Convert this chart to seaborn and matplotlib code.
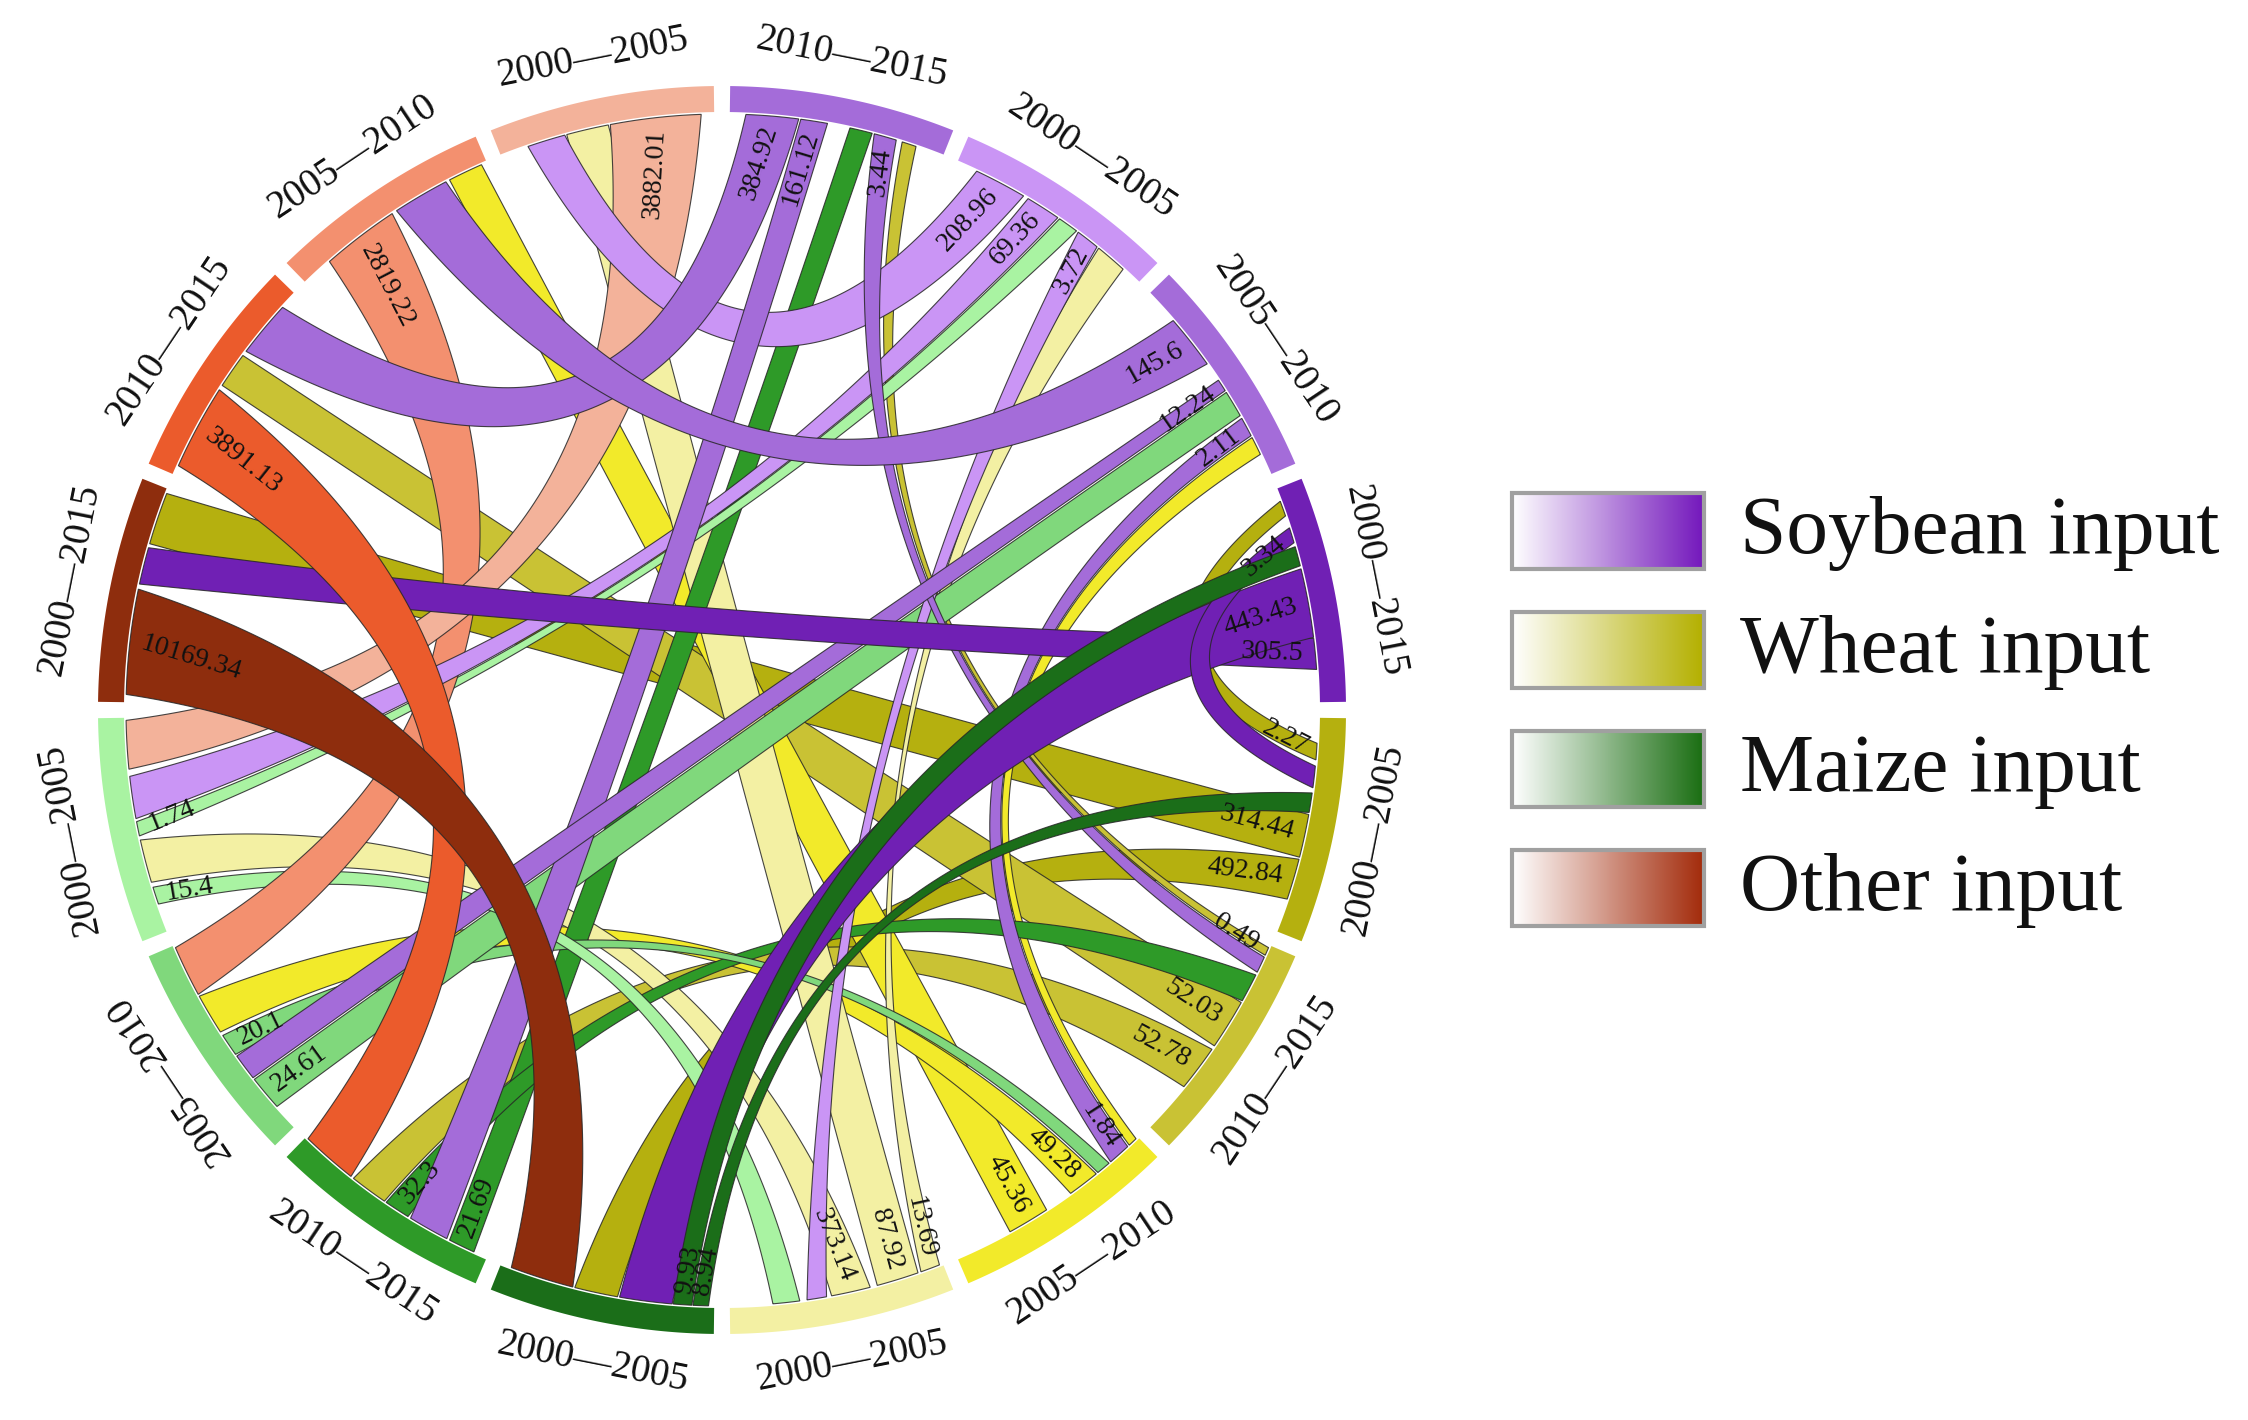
import numpy as np
import matplotlib
matplotlib.use("Agg")
import matplotlib.pyplot as plt
import seaborn as sns
from matplotlib.patches import Rectangle

# ---------------- data ----------------
# 16 sectors, clockwise from the top
segment_crop = ["Soybean"] * 4 + ["Wheat"] * 4 + ["Maize"] * 4 + ["Other"] * 4
segment_labels = ["2010—2015", "2000—2005", "2005—2010", "2000—2015",
                  "2000—2005", "2010—2015", "2005—2010", "2000—2005",
                  "2000—2005", "2010—2015", "2005—2010", "2000—2005",
                  "2000—2015", "2010—2015", "2005—2010", "2000—2005"]

# flows: labelled end (a) -> other end (b)
flow_seg_a = [12, 3, 4, 13, 5, 0, 14, 2, 6, 15, 7, 1, 1, 11, 7, 11, 1, 7,
              6, 10, 2, 10, 2, 6, 0, 9, 0, 5, 9, 5, 4, 3, 8, 8, 3, 4]
flow_seg_b = [8, 12, 12, 9, 13, 13, 10, 14, 14, 11, 15, 15, 11, 1, 11, 7, 7, 1,
              10, 6, 10, 2, 6, 2, 9, 0, 5, 0, 5, 9, 8, 8, 3, 4, 4, 3]
flow_label_a = ["10169.34", "305.5", "314.44", "3891.13", "52.03", "384.92",
                "2819.22", "145.6", "45.36", "3882.01", "87.92", "208.96",
                "69.36", "1.74", "373.14", "15.4", "3.72", "13.69",
                "49.28", "20.1", "12.24", "24.61", "2.11", "",
                "161.12", "21.69", "3.44", "0.49", "32.3", "52.78",
                "492.84", "443.43", "9.93", "8.94", "3.34", "2.27"]
flow_label_b = [""] * 22 + ["1.84"] + [""] * 13

legend_labels = ["Soybean input", "Wheat input", "Maize input", "Other input"]

# ---------------- layout / style ----------------
segment_colors = ["#A46CD9", "#CA95F5", "#A46CD9", "#7020B4",
                  "#B5B00F", "#C9C234", "#F2EA2A", "#F3F0A3",
                  "#1B6E19", "#2E9A28", "#80D87C", "#A9F3A2",
                  "#8E2D0D", "#EB5B2C", "#F3906F", "#F3B29A"]
legend_colors = ["#7418BC", "#B4B000", "#1A6E12", "#A32B0B"]

# attachment spans (degrees, math orientation) at end a and end b
span_a = [(168.3, 178.5), (3.9, 6.9), (-14.3, -10.1), (147.5, 155.8), (-34.3, -29.4),
          (82.6, 87.7), (123.6, 131.2), (35.5, 40.8), (-61.1, -57.0), (92.0, 100.8),
          (-74.9, -70.8), (59.6, 64.7), (55.7, 59.1), (-169.2, -167.8), (-79.4, -75.6),
          (-162.7, -161.0), (51.0, 53.3), (-70.5, -68.6), (-54.2, -51.1), (-146.9, -144.7),
          (32.4, 33.6), (-141.7, -138.3), (27.4, 29.3), (-46.9, -46.0), (79.8, 82.4),
          (-117.2, -114.6), (73.0, 75.2), (-24.3, -23.5), (-124.3, -121.8), (-39.2, -34.7),
          (-18.5, -14.5), (7.0, 13.7), (-94.7, -92.9), (-92.8, -91.3), (16.3, 17.8),
          (-4.8, -3.2)]
span_b = [(-110.7, -104.5), (164.2, 167.8), (158.7, 163.8), (-134.0, -128.5), (143.5, 147.0),
          (137.5, 143.0), (-156.5, -151.5), (117.6, 123.1), (113.8, 117.2), (-179.0, -174.3),
          (101.0, 105.1), (105.3, 109.0), (-173.6, -169.5), (53.5, 55.5), (-167.4, -163.2),
          (-85.1, -82.5), (-81.8, -79.9), (47.7, 50.8), (-151.3, -147.3), (-50.9, -49.5),
          (-144.5, -141.9), (29.6, 32.2), (-49.3, -47.1), (25.4, 27.2), (-121.5, -117.5),
          (75.4, 77.6), (-26.1, -24.5), (71.0, 72.4), (-29.2, -26.4), (-128.2, -124.5),
          (-104.3, -100.1), (-99.9, -94.8), (14.0, 15.9), (-9.9, -8.0), (-7.5, -5.4),
          (19.0, 20.5)]

CX, CY = 722.0, 710.0
R_OUT, R_IN = 624.0, 598.0
R_ATT = 596.0
R_LAB = 665.0
SEG_SPAN = 22.5
SEG_GAP = 1.5

sns.set_theme(style="white")
plt.rcParams["font.family"] = ["Liberation Serif", "DejaVu Serif"]

fig = plt.figure(figsize=(22.48, 14.2), dpi=100)
ax = fig.add_axes([0, 0, 1, 1])
ax.axis("off")


def pt(theta, r=R_ATT):
    t = np.deg2rad(theta)
    return np.array([CX + r * np.cos(t), CY - r * np.sin(t)])


def ctrl(ta, tb):
    d = abs(((tb - ta + 180.0) % 360.0) - 180.0)
    p0, p2 = pt(ta), pt(tb)
    mid = (p0 + p2) / 2.0
    cvec = mid - np.array([CX, CY])
    cmr = np.hypot(*cvec)
    if cmr < 1e-6:
        return np.array([CX, CY])
    half = R_ATT * np.sin(np.deg2rad(d / 2.0))
    ratio = np.clip(0.85 - 0.45 * (d - 30.0) / 60.0, 0.3, 0.85)
    taper = np.clip(1.0 - (d - 100.0) / 80.0, 0.12, 1.0)
    h = min(ratio * half, cmr / 2.0 * taper)
    return np.array([CX, CY]) + cvec / cmr * (cmr - 2.0 * h)


def bez(p0, c, p2, t):
    t = np.asarray(t)[:, None]
    return (1 - t) ** 2 * p0 + 2 * (1 - t) * t * c + t ** 2 * p2


def arc(t1, t2, r=R_ATT, n=40):
    th = np.linspace(t1, t2, n)
    return np.array([pt(x, r) for x in th])


def ribbon_poly(sa, sb):
    a1, a2 = sa
    b1, b2 = sb
    ts = np.linspace(0, 1, 100)
    parts = [arc(a1, a2),
             bez(pt(a2), ctrl(a2, b1), pt(b1), ts),
             arc(b1, b2),
             bez(pt(b2), ctrl(b2, a1), pt(a1), ts)]
    return np.vstack(parts)


def text_width(s, fs_px):
    w = 0.0
    for ch in s:
        w += 0.25 if ch == "." else 0.5
    return w * fs_px


def place_label(sa, sb, label, fs):
    am, bm = np.mean(sa), np.mean(sb)
    p0, c, p2 = pt(am), ctrl(am, bm), pt(bm)
    ts = np.linspace(0, 1, 600)
    pts = bez(p0, c, p2, ts)
    seg = np.hypot(*np.diff(pts, axis=0).T)
    cum = np.concatenate([[0], np.cumsum(seg)])
    fs_px = fs * 100 / 72.0
    dist = text_width(label, fs_px) / 2.0 + 10.0
    i = min(np.searchsorted(cum, dist), len(ts) - 2)
    x, y = pts[i]
    dx, dy = pts[i + 1] - pts[i]
    ang = np.degrees(np.arctan2(-dy, dx))
    if ang > 90:
        ang -= 180
    elif ang <= -90:
        ang += 180
    ax.text(x, y, label, fontsize=fs, rotation=ang, rotation_mode="anchor",
            ha="center", va="center", color="#111111", zorder=30)


# --- sector bars ---
for i, col in enumerate(segment_colors):
    c = 90.0 - SEG_SPAN / 2 - SEG_SPAN * i
    t1, t2 = c - (SEG_SPAN - SEG_GAP) / 2, c + (SEG_SPAN - SEG_GAP) / 2
    outer = arc(t1, t2, R_OUT, 60)
    inner = arc(t2, t1, R_IN, 60)
    poly = np.vstack([outer, inner])
    ax.add_patch(plt.Polygon(poly, closed=True, facecolor=col, edgecolor="none", zorder=20))
    rot = c - 90 if not (-135 < c < 0) else c + 90
    lx, ly = pt(c, R_LAB)
    ax.text(lx, ly, segment_labels[i], fontsize=28, rotation=rot, rotation_mode="anchor",
            ha="center", va="center", color="#111111", zorder=30)

# --- ribbons ---
prio = [4, 5, 6, 7, 9, 10, 11, 14, 15, 1, 0, 2, 3, 8, 13, 12]
order = sorted(range(len(flow_seg_a)), key=lambda k: prio.index(flow_seg_a[k]))
for z, k in enumerate(order):
    poly = ribbon_poly(span_a[k], span_b[k])
    ax.add_patch(plt.Polygon(poly, closed=True, facecolor=segment_colors[flow_seg_a[k]],
                             edgecolor=(0.15, 0.15, 0.15, 0.85), linewidth=0.8,
                             zorder=5 + z * 0.1))

for k in range(len(flow_seg_a)):
    if flow_label_a[k]:
        place_label(span_a[k], span_b[k], flow_label_a[k], 20)
    if flow_label_b[k]:
        place_label(span_b[k], span_a[k], flow_label_b[k], 20)

# --- legend ---
box_x0, box_x1 = 1512, 1704
box_tops = [493, 612, 731, 850]
box_h = 76
for lab, col, top in zip(legend_labels, legend_colors, box_tops):
    grad = np.array(sns.blend_palette(["#ffffff", col], n_colors=128))[None, :, :]
    ax.imshow(grad, extent=(box_x0, box_x1, top + box_h, top), aspect="auto",
              interpolation="bilinear", zorder=25)
    ax.add_patch(Rectangle((box_x0, top), box_x1 - box_x0, box_h, facecolor="none",
                           edgecolor="#a0a0a0", linewidth=3, zorder=26))
    ax.text(1740, top + box_h / 2 + 2, lab, fontsize=60, ha="left", va="center",
            color="#111111", zorder=30)

ax.set_xlim(0, 2248)
ax.set_ylim(1420, 0)
fig.savefig("out.png", dpi=100, facecolor="white")
